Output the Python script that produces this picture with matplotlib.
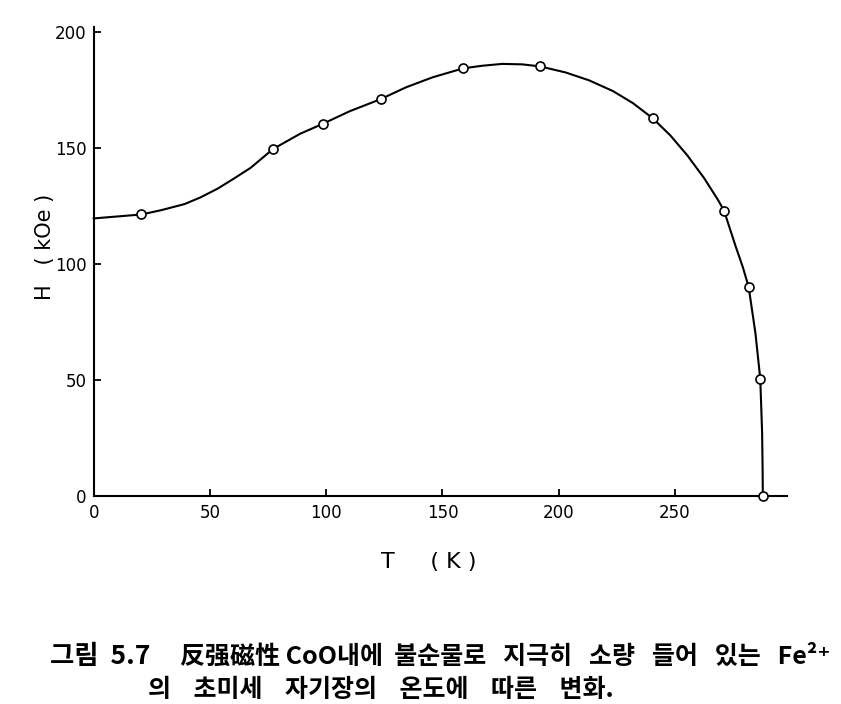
import numpy as np
import matplotlib
matplotlib.use("Agg")
import matplotlib.pyplot as plt

# 측정점 (T [K], H [kOe])
meas_T = [20.5, 77.1, 98.8, 123.4, 159.0, 192.1, 240.4, 271.1, 281.7, 286.7, 287.8]
meas_H = [121.2, 149.4, 160.4, 170.9, 184.2, 185.0, 162.7, 122.9, 90.0, 50.4, 0.0]

# 그림에서 읽은 곡선 위의 점들
curve_T = [0, 20.5, 29.2, 39.1, 46.0, 53.4, 60.5, 67.6, 77.1, 88.8, 98.8, 110.1, 123.4,
           134.3, 145.7, 159.0, 167.1, 175.7, 184.3, 192.1, 203.0, 213.1, 223.3,
           231.9, 240.4, 248.0, 255.3, 262.6, 268.5, 271.1, 276.1, 279.2, 281.7, 284.6,
           286.7, 287.5, 287.7, 287.8]
curve_H = [119.5, 121.2, 123.1, 125.7, 128.6, 132.4, 136.8, 141.4, 149.4, 156.0, 160.4, 165.7,
           170.9, 176.0, 180.3, 184.2, 185.3, 186.1, 185.9, 185.0, 182.4, 179.0, 174.4,
           169.2, 162.7, 155.3, 146.7, 136.8, 127.5, 122.9, 107.5, 98.5, 90.0, 70.2,
           50.4, 27.1, 12.0, 0.0]

x_ticks = [0, 50, 100, 150, 200, 250]
y_ticks = [0, 50, 100, 150, 200]

caption_head = "그림  5.7"
caption_line1 = "反强磁性 CoO내에  불순물로   지극히   소량   들어   있는   Fe²⁺"
caption_line2 = "의    초미세    자기장의    온도에    따른    변화."

fig = plt.figure(figsize=(8.41, 7.04), dpi=100)
W, H = 841, 704
left, right, bottom, top = 93.75, 787, 495.7, 27
ax = fig.add_axes([left / W, 1 - bottom / H, (right - left) / W, (bottom - top) / H])

ax.plot(curve_T, curve_H, color="black", lw=1.5, zorder=2, clip_on=False)
ax.plot(meas_T, meas_H, "o", ms=6.5, mfc="white", mec="black", mew=1.2,
        zorder=3, clip_on=False)

ax.set_xlim(0, 298.2)
ax.set_ylim(0, 202)
ax.spines["top"].set_visible(False)
ax.spines["right"].set_visible(False)
ax.spines["left"].set_linewidth(1.5)
ax.spines["bottom"].set_linewidth(1.5)
ax.set_xticks(x_ticks)
ax.set_yticks(y_ticks)
ax.tick_params(direction="in", length=5, width=1.3, labelsize=12, pad=6)
ax.tick_params(axis="y", pad=5)

ax.set_xlabel("T     ( K )", fontsize=16)
ax.xaxis.set_label_coords(0.4836, -0.1415)
ax.xaxis.label.set_va("center")
ax.set_ylabel("H   ( kOe )", fontsize=15)
ax.yaxis.set_label_coords(-0.0703, 0.53)
ax.yaxis.label.set_va("center")

cjk = ["Noto Sans CJK KR", "DejaVu Sans"]
fig.text(50 / W, 1 - 657 / H, caption_head, family=cjk, fontsize=19, weight="bold",
         va="center", ha="left")
fig.text(180 / W, 1 - 657 / H, caption_line1, family=cjk, fontsize=18, weight="bold",
         va="center", ha="left")
fig.text(148 / W, 1 - 690 / H, caption_line2, family=cjk, fontsize=18, weight="bold",
         va="center", ha="left")

fig.savefig("out.png", dpi=100, facecolor="white")
